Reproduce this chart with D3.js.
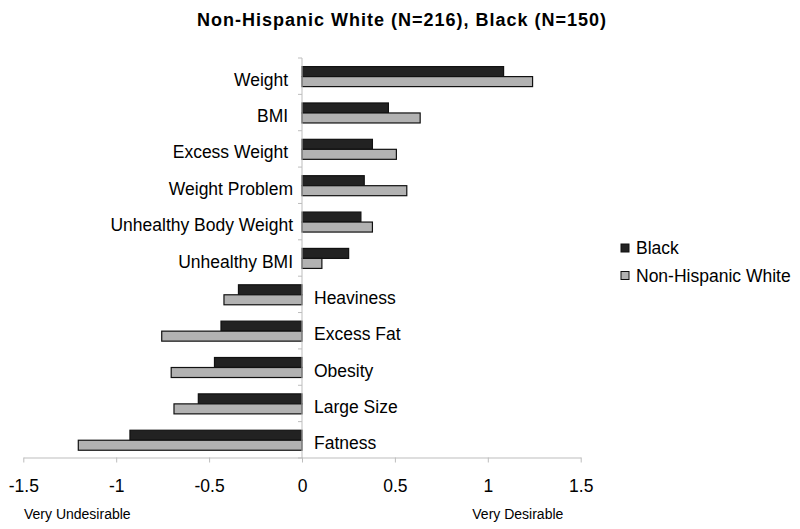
<!DOCTYPE html>
<html>
<head>
<meta charset="utf-8">
<script src="https://cdn.jsdelivr.net/npm/d3@7"></script>
<style>
  html, body { margin: 0; padding: 0; background: #fff; }
  svg { display: block; font-family: "Liberation Sans", Arial, sans-serif; }
  text { white-space: pre; }
</style>
</head>
<body>
<svg id="chart" width="800" height="529"></svg>
<script>
const categories = ["Weight ", "BMI ", "Excess Weight ", "Weight Problem", "Unhealthy Body Weight",
  "Unhealthy BMI", "Heaviness", "Excess Fat", "Obesity", "Large Size", "Fatness"];
const seriesNames = ["Black", "Non-Hispanic White"];
const blackValues = [1.085, 0.465, 0.379, 0.335, 0.317, 0.251, -0.342, -0.436, -0.471, -0.558, -0.926];
const whiteValues = [1.241, 0.636, 0.508, 0.564, 0.379, 0.107, -0.420, -0.755, -0.704, -0.689, -1.204];
const xTickValues = [-1.5, -1, -0.5, 0, 0.5, 1, 1.5];
const titleText = "Non-Hispanic White (N=216), Black (N=150)";
const xEndLabels = ["Very Undesirable", "Very Desirable"];

const colors = { "Black": "#222222", "Non-Hispanic White": "#b2b2b2" };
const axisColor = "#bdbdbd";

const svg = d3.select("#chart");

const x = d3.scaleLinear().domain([-1.5, 1.5]).range([23.3, 580.7]);
const y = d3.scaleBand().domain(categories).range([58, 458]).padding(0);
const ySub = d3.scaleBand().domain(seriesNames).range([8.6, 28.6]).padding(0);

const seriesData = {
  "Black": blackValues,
  "Non-Hispanic White": whiteValues
};

// bars
seriesNames.forEach(s => {
  svg.append("g").selectAll("rect")
    .data(categories.map((c, i) => ({ c, v: seriesData[s][i] })))
    .join("rect")
    .attr("x", d => Math.min(x(0), x(d.v)))
    .attr("y", d => y(d.c) + ySub(s))
    .attr("width", d => Math.abs(x(d.v) - x(0)))
    .attr("height", ySub.bandwidth())
    .attr("fill", colors[s])
    .attr("stroke", "#111")
    .attr("stroke-width", 1.2);
});

// x axis
const xAxis = svg.append("g").attr("transform", "translate(0,457.5)")
  .call(d3.axisBottom(x).tickValues(xTickValues).tickSize(5).tickSizeOuter(0)
    .tickFormat(d => d3.format("")(d).replace("\u2212", "-")));
xAxis.select(".domain").attr("stroke", axisColor);
xAxis.selectAll(".tick line").attr("stroke", axisColor);
xAxis.selectAll(".tick text").attr("fill", "#000").attr("font-size", "17.5px")
  .attr("font-family", "Liberation Sans, Arial, sans-serif").attr("y", 0).attr("dy", "34px");

// y axis line with ticks at band boundaries
const yAxisG = svg.append("g");
yAxisG.append("line")
  .attr("x1", x(0)).attr("x2", x(0))
  .attr("y1", y.range()[0]).attr("y2", y.range()[1])
  .attr("stroke", axisColor);
const boundaries = categories.map(c => y(c)).concat([y.range()[1]]);
yAxisG.selectAll("line.tk").data(boundaries).join("line")
  .attr("class", "tk")
  .attr("x1", x(0) - 4).attr("x2", x(0))
  .attr("y1", d => d).attr("y2", d => d)
  .attr("stroke", axisColor);

// category labels
svg.append("g").selectAll("text")
  .data(categories.map((c, i) => ({ c, v: whiteValues[i] + blackValues[i] })))
  .join("text")
  .attr("x", d => d.v >= 0 ? x(0) - 9 : x(0) + 12)
  .attr("y", d => y(d.c) + y.bandwidth() / 2 + 9.5)
  .attr("text-anchor", d => d.v >= 0 ? "end" : "start")
  .attr("font-size", "17.5px")
  .attr("fill", "#000")
  .text(d => d.c);

// title
svg.append("text")
  .attr("x", 402).attr("y", 26)
  .attr("text-anchor", "middle")
  .attr("font-size", "18px")
  .attr("font-weight", "bold")
  .attr("letter-spacing", "1px")
  .attr("fill", "#000")
  .text(titleText);

// end labels
svg.append("text").attr("x", 24).attr("y", 519).attr("font-size", "14px").attr("fill", "#000").text(xEndLabels[0]);
svg.append("text").attr("x", 472.3).attr("y", 519).attr("font-size", "14px").attr("fill", "#000").text(xEndLabels[1]);

// legend
const legend = svg.append("g");
seriesNames.forEach((s, i) => {
  legend.append("rect")
    .attr("x", 621).attr("y", 244 + i * 27.5)
    .attr("width", 8).attr("height", 8)
    .attr("fill", colors[s]).attr("stroke", "#111").attr("stroke-width", 1);
  legend.append("text")
    .attr("x", 636).attr("y", 254.3 + i * 27.5)
    .attr("font-size", "17.5px").attr("fill", "#000")
    .text(s);
});
</script>
</body>
</html>
